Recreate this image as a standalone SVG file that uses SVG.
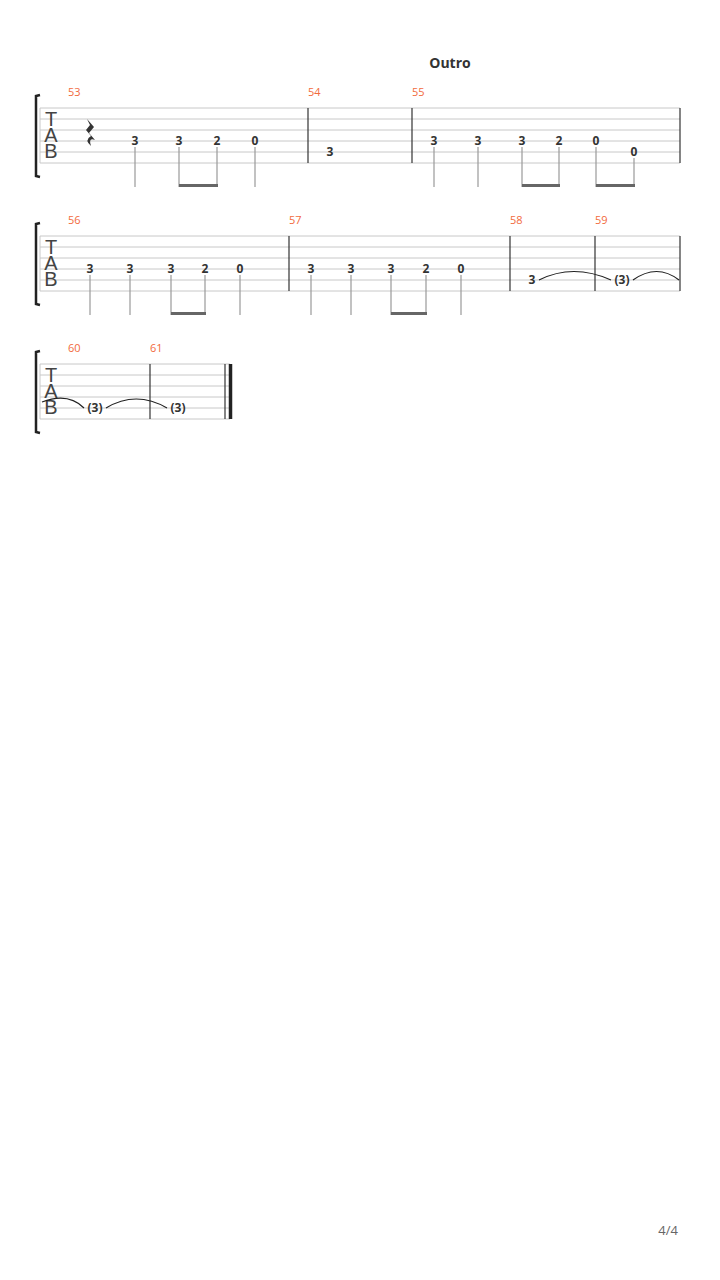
<svg xmlns="http://www.w3.org/2000/svg" width="720" height="1280" viewBox="0 0 720 1280">
<style>
.l{stroke:#c8c8c8;stroke-width:1}
.b{stroke:#333;stroke-width:1.2}
.s{stroke:#999;stroke-width:1.2}
.bm{stroke:#666;stroke-width:3}
.n{font-family:"Open Sans","Liberation Sans",sans-serif;font-weight:bold;font-size:12px;fill:#333;text-anchor:middle}
.m{font-family:"Open Sans","Liberation Sans",sans-serif;font-size:11px;fill:#f26a3c}
.t{font-family:"Liberation Sans",sans-serif;font-size:20px;fill:#444;text-anchor:middle}
.tie{fill:none;stroke:#222;stroke-width:1.2}
.br{fill:none;stroke:#222;stroke-width:2.5}
</style>
<rect width="720" height="1280" fill="#fff"/>
<text x="450" y="68" font-family="'Open Sans','Liberation Sans',sans-serif" font-weight="bold" font-size="14" fill="#333" text-anchor="middle">Outro</text>
<defs>
<g id="staff">
<line class="l" x1="40" y1="0" x2="680" y2="0"/><line class="l" x1="40" y1="11" x2="680" y2="11"/><line class="l" x1="40" y1="22" x2="680" y2="22"/><line class="l" x1="40" y1="33" x2="680" y2="33"/><line class="l" x1="40" y1="44" x2="680" y2="44"/><line class="l" x1="40" y1="55" x2="680" y2="55"/>
<line class="l" x1="40" y1="0" x2="40" y2="55"/>
<path class="br" d="M40,-13 L36,-12 L36,68 L40,69"/>
<text class="t" x="51" y="18">T</text><text class="t" x="51" y="34">A</text><text class="t" x="51" y="50">B</text>
</g>
<g id="staff3">
<line class="l" x1="40" y1="0" x2="230" y2="0"/><line class="l" x1="40" y1="11" x2="230" y2="11"/><line class="l" x1="40" y1="22" x2="230" y2="22"/><line class="l" x1="40" y1="33" x2="230" y2="33"/><line class="l" x1="40" y1="44" x2="230" y2="44"/><line class="l" x1="40" y1="55" x2="230" y2="55"/>
<line class="l" x1="40" y1="0" x2="40" y2="55"/>
<path class="br" d="M40,-13 L36,-12 L36,68 L40,69"/>
<text class="t" x="51" y="18">T</text><text class="t" x="51" y="34">A</text><text class="t" x="51" y="50">B</text>
</g>
</defs>
<g id="system1">
<use href="#staff" y="108"/>
<line class="b" x1="308" y1="108" x2="308" y2="163"/><line class="b" x1="412" y1="108" x2="412" y2="163"/><line class="b" x1="680" y1="108" x2="680" y2="163"/>
<text class="m" x="68" y="96">53</text><text class="m" x="308" y="96">54</text><text class="m" x="412" y="96">55</text>
<path d="M87,119 L94,127 L89,133 L95,140 Q88,137 91,146 Q84,140 91,136 L86,130 L90,125 Z" fill="#333"/>
<g class="n"><text x="135" y="145">3</text><text x="179" y="145">3</text><text x="217" y="145">2</text><text x="255" y="145">0</text><text x="330" y="156">3</text>
<text x="434" y="145">3</text><text x="478" y="145">3</text><text x="522" y="145">3</text><text x="559" y="145">2</text><text x="596" y="145">0</text><text x="634" y="156">0</text></g>
<g class="s"><line x1="135" y1="147" x2="135" y2="187"/><line x1="179" y1="147" x2="179" y2="187"/><line x1="217" y1="147" x2="217" y2="187"/><line x1="255" y1="147" x2="255" y2="187"/>
<line x1="434" y1="147" x2="434" y2="187"/><line x1="478" y1="147" x2="478" y2="187"/><line x1="522" y1="147" x2="522" y2="187"/><line x1="559" y1="147" x2="559" y2="187"/><line x1="596" y1="147" x2="596" y2="187"/><line x1="634" y1="158" x2="634" y2="187"/></g>
<line class="bm" x1="179" y1="185.5" x2="218" y2="185.5"/><line class="bm" x1="522" y1="185.5" x2="560" y2="185.5"/><line class="bm" x1="596" y1="185.5" x2="635" y2="185.5"/>
</g>
<g id="system2">
<use href="#staff" y="236"/>
<line class="b" x1="289" y1="236" x2="289" y2="291"/><line class="b" x1="510" y1="236" x2="510" y2="291"/><line class="b" x1="595" y1="236" x2="595" y2="291"/><line class="b" x1="680" y1="236" x2="680" y2="291"/>
<text class="m" x="68" y="224">56</text><text class="m" x="289" y="224">57</text><text class="m" x="510" y="224">58</text><text class="m" x="595" y="224">59</text>
<g class="n"><text x="90" y="273">3</text><text x="130" y="273">3</text><text x="171" y="273">3</text><text x="205" y="273">2</text><text x="240" y="273">0</text>
<text x="311" y="273">3</text><text x="351" y="273">3</text><text x="391" y="273">3</text><text x="426" y="273">2</text><text x="461" y="273">0</text>
<text x="532" y="284">3</text><text x="622" y="284">(3)</text></g>
<g class="s"><line x1="90" y1="275" x2="90" y2="315"/><line x1="130" y1="275" x2="130" y2="315"/><line x1="171" y1="275" x2="171" y2="315"/><line x1="205" y1="275" x2="205" y2="315"/><line x1="240" y1="275" x2="240" y2="315"/>
<line x1="311" y1="275" x2="311" y2="315"/><line x1="351" y1="275" x2="351" y2="315"/><line x1="391" y1="275" x2="391" y2="315"/><line x1="426" y1="275" x2="426" y2="315"/><line x1="461" y1="275" x2="461" y2="315"/></g>
<line class="bm" x1="171" y1="313.5" x2="206" y2="313.5"/><line class="bm" x1="391" y1="313.5" x2="427" y2="313.5"/>
<path class="tie" d="M539,280 Q573,263 611,280"/><path class="tie" d="M633,280 Q657,263 679,280"/>
</g>
<g id="system3">
<use href="#staff3" y="364"/>
<line class="b" x1="150" y1="364" x2="150" y2="419"/><line class="b" x1="225" y1="364" x2="225" y2="419"/><line x1="230.5" y1="364" x2="230.5" y2="419" stroke="#222" stroke-width="3.5"/>
<text class="m" x="68" y="352">60</text><text class="m" x="150" y="352">61</text>
<g class="n"><text x="95" y="412">(3)</text><text x="178" y="412">(3)</text></g>
<path class="tie" d="M42,402 Q68,392 84,408"/><path class="tie" d="M106,408 Q136,390 167,408"/>
</g>
<text x="678" y="1235" font-family="'Open Sans','Liberation Sans',sans-serif" font-size="13" fill="#666" text-anchor="end">4/4</text>
</svg>
